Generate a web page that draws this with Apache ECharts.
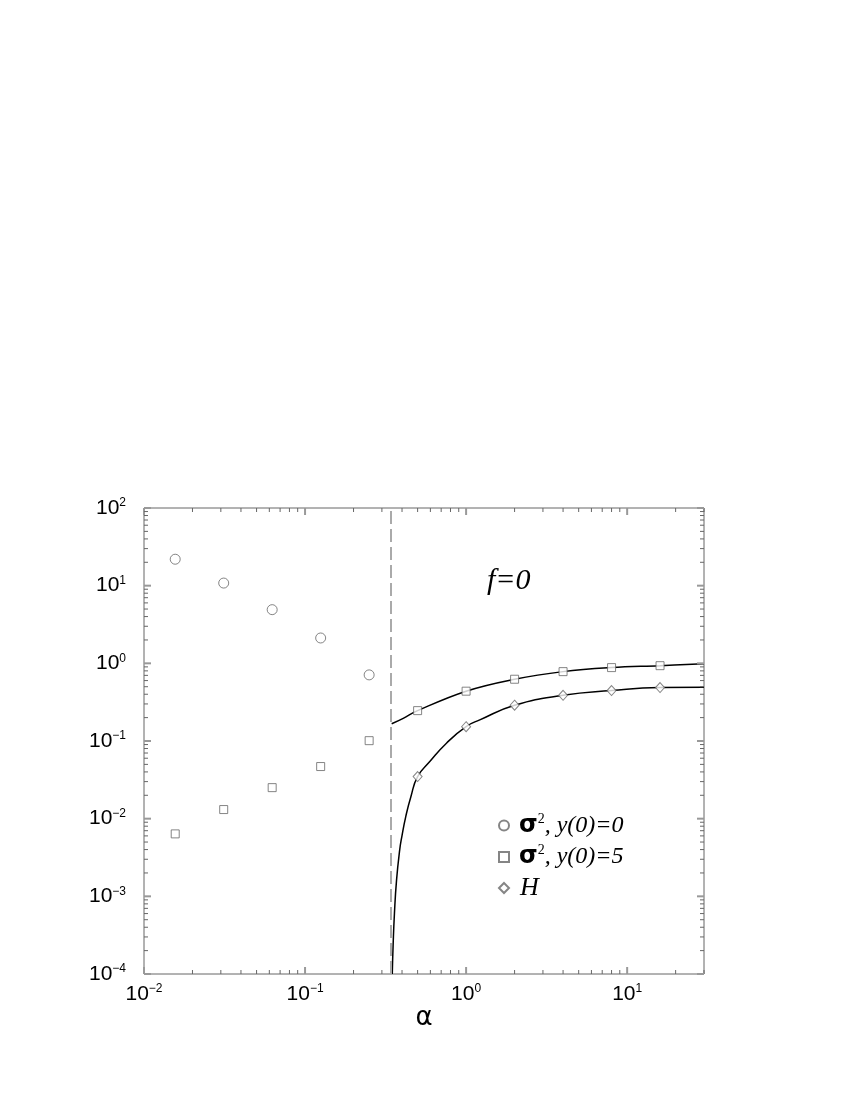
<!DOCTYPE html>
<html>
<head>
<meta charset="utf-8">
<script src="https://cdn.jsdelivr.net/npm/echarts@6.0.0/dist/echarts.min.js"></script>
<style>
  html, body { margin: 0; padding: 0; background: #fff; }
  #chart { width: 850px; height: 1100px; }
</style>
</head>
<body>
<div id="chart"></div>
<script>
// data
const alphaAll = [1/64, 1/32, 1/16, 1/8, 1/4, 1/2, 1, 2, 4, 8, 16];
const sigmaY0 = [21.9, 10.8, 4.91, 2.12, 0.71];
const sigmaY5 = [0.00637, 0.0131, 0.0251, 0.0469, 0.101, 0.246, 0.438, 0.624, 0.782, 0.881, 0.933];
const alphaH = [0.5, 1, 2, 4, 8, 16];
const hVals = [0.0348, 0.153, 0.289, 0.388, 0.446, 0.487];

// solid curves
const upperX = [0.345, 0.407, 0.5, 1, 2, 4, 8, 16, 30];
const upperY = [0.167, 0.196, 0.246, 0.438, 0.624, 0.782, 0.881, 0.933, 0.99];
const lowerX = [0.348, 0.352, 0.359, 0.370, 0.387, 0.399, 0.422, 0.454, 0.5, 0.595, 0.755, 1, 1.216, 2, 4, 8, 16, 30];
const lowerY = [0.0001, 0.000226, 0.000608, 0.00163, 0.00397, 0.00589, 0.01064, 0.0192, 0.0348, 0.0543, 0.0937, 0.153, 0.187, 0.289, 0.388, 0.446, 0.487, 0.493];

const alphaCrit = 0.345;

// axes
const xDecades = [0.01, 0.1, 1, 10];
const yDecades = [1e-4, 1e-3, 1e-2, 1e-1, 1, 10, 100];
const minorMult = [2, 3, 4, 5, 6, 7, 8, 9];
const xMin = 0.01, xMax = 30, yMin = 1e-4, yMax = 100;

const zip = (xs, ys) => ys.map((y, i) => [xs[i], y]);

// tick marks: [x, y, side(0 = x axis, 1 = y axis), length]
const tickData = [];
xDecades.forEach(d => {
  tickData.push([d, yMin, 0, 7]);
  minorMult.forEach(m => { if (d * m <= xMax) tickData.push([d * m, yMin, 0, 4]); });
});
yDecades.forEach(d => {
  tickData.push([xMin, d, 1, 7]);
  if (d < yMax) minorMult.forEach(m => tickData.push([xMin, d * m, 1, 4]));
});

function powLabel(v) {
  const e = Math.log10(v);
  const r = Math.round(e);
  if (Math.abs(e - r) > 1e-6) return '';
  return '{b|10}{e|' + (r < 0 ? '\u2212' + (-r) : r) + '}';
}

const labelRich = {
  b: { fontFamily: 'Liberation Sans', fontSize: 21, color: '#000', lineHeight: 22 },
  e: { fontFamily: 'Liberation Sans', fontSize: 12, color: '#000', verticalAlign: 'top', lineHeight: 10 }
};

const legendText = {
  sigma0: '{s|σ}{p|2}{t|, y(0)=0}',
  sigma5: '{s|σ}{p|2}{t|, y(0)=5}',
  H: '{h|H}'
};

const chart = echarts.init(document.getElementById('chart'));

chart.setOption({
  animation: false,
  backgroundColor: '#fff',
  grid: {
    left: 144, top: 508, width: 560, height: 466,
    show: true, borderColor: '#666', borderWidth: 1, backgroundColor: 'transparent'
  },
  xAxis: {
    type: 'log', logBase: 10, min: xMin, max: xMax,
    name: 'α', nameLocation: 'middle', nameGap: 27,
    nameTextStyle: { fontFamily: 'DejaVu Sans', fontSize: 26, color: '#000' },
    axisLine: { show: false },
    axisTick: { show: false },
    splitLine: { show: false },
    axisLabel: { margin: 9, formatter: powLabel, rich: labelRich, showMinLabel: true, showMaxLabel: true, hideOverlap: false }
  },
  yAxis: {
    type: 'log', logBase: 10, min: yMin, max: yMax,
    axisLine: { show: false },
    axisTick: { show: false },
    splitLine: { show: false },
    axisLabel: { margin: 18, formatter: powLabel, rich: labelRich, showMinLabel: true, showMaxLabel: true, hideOverlap: false }
  },
  legend: {
    data: ['sigma0', 'sigma5', 'H'],
    orient: 'vertical',
    left: 498, top: 812, padding: 0,
    itemWidth: 10, itemHeight: 10, itemGap: 6,
    selectedMode: false,
    formatter: name => legendText[name],
    textStyle: {
      color: '#000',
      rich: {
        s: { fontFamily: 'DejaVu Sans', fontWeight: 'bold', fontSize: 24, lineHeight: 27, padding: [0, 0, 0, 5] },
        p: { fontFamily: 'Liberation Serif', fontSize: 14, lineHeight: 12, verticalAlign: 'top' },
        t: { fontFamily: 'Liberation Serif', fontStyle: 'italic', fontSize: 24, lineHeight: 27 },
        h: { fontFamily: 'Liberation Serif', fontStyle: 'italic', fontSize: 26, lineHeight: 27, padding: [0, 0, 0, 6] }
      }
    }
  },
  graphic: [{
    type: 'text', x: 487, y: 581,
    style: { text: 'f=0', font: 'italic 30px "Liberation Serif"', fill: '#000', align: 'left', verticalAlign: 'middle' }
  }],
  series: [
    {
      name: 'upperCurve', type: 'line', data: zip(upperX, upperY),
      symbol: 'none', smooth: 0.4, z: 2,
      lineStyle: { color: '#000', width: 1.5 },
      markLine: {
        silent: true, symbol: 'none', label: { show: false },
        lineStyle: { color: '#aaa', width: 2, type: [13, 5] },
        data: [{ xAxis: alphaCrit }]
      }
    },
    {
      name: 'lowerCurve', type: 'line', data: zip(lowerX, lowerY),
      symbol: 'none', smooth: 0.5, z: 2,
      lineStyle: { color: '#000', width: 1.5 }
    },
    {
      name: 'sigma0', type: 'scatter', data: zip(alphaAll, sigmaY0),
      symbol: 'circle', symbolSize: 10, z: 3,
      itemStyle: { color: '#fff', borderColor: '#666', borderWidth: 1 }
    },
    {
      name: 'sigma5', type: 'scatter', data: zip(alphaAll, sigmaY5),
      symbol: 'rect', symbolSize: 8, z: 3,
      itemStyle: { color: '#fff', borderColor: '#666', borderWidth: 1 }
    },
    {
      name: 'H', type: 'scatter', data: zip(alphaH, hVals),
      symbol: 'diamond', symbolSize: [9, 10], z: 3,
      itemStyle: { color: '#fff', borderColor: '#666', borderWidth: 1 }
    },
    {
      name: 'ticks', type: 'custom', data: tickData, silent: true, clip: false, z: 4,
      encode: { x: 0, y: 1 },
      renderItem: function (params, api) {
        const cs = params.coordSys;
        const len = api.value(3);
        const major = len > 5;
        const style = { stroke: major ? '#999' : '#666', lineWidth: major ? 2 : 1 };
        const p = api.coord([api.value(0), api.value(1)]);
        let segs;
        if (api.value(2) === 0) {
          const bot = cs.y + cs.height;
          segs = [[p[0], bot, p[0], bot - len], [p[0], cs.y, p[0], cs.y + len]];
        } else {
          const right = cs.x + cs.width;
          segs = [[cs.x, p[1], cs.x + len, p[1]], [right, p[1], right - len, p[1]]];
        }
        return {
          type: 'group',
          children: segs.map(s => ({
            type: 'line', shape: { x1: s[0], y1: s[1], x2: s[2], y2: s[3] }, style: style
          }))
        };
      }
    }
  ]
});
</script>
</body>
</html>
